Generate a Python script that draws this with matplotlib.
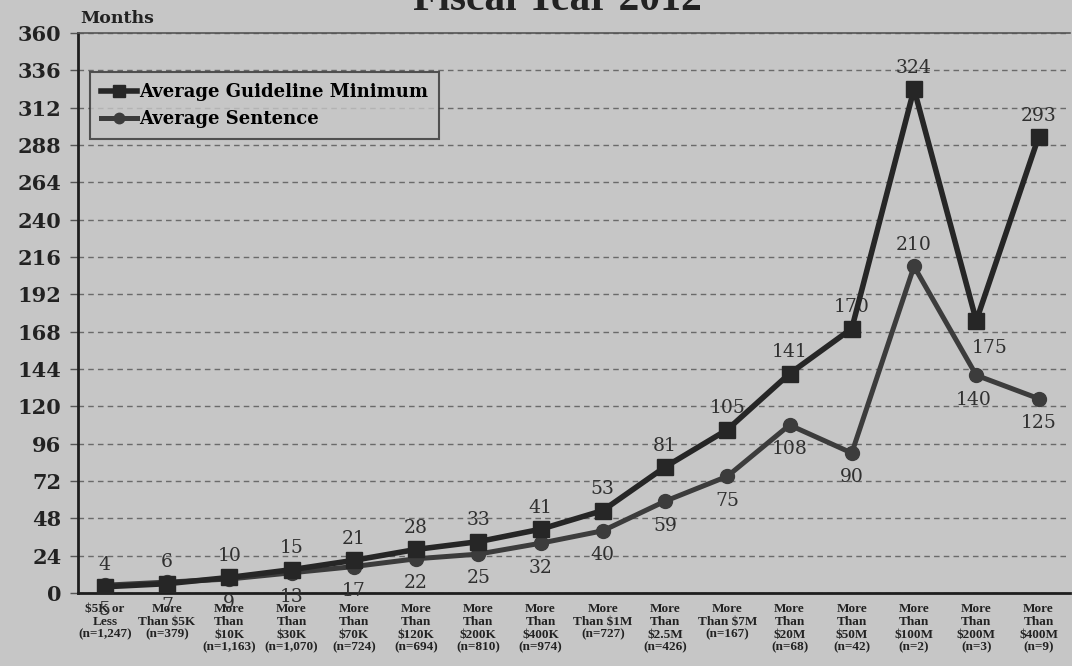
import numpy as np
from matplotlib import pyplot as plt

categories = [
    "$5K or\nLess\n(n=1,247)",
    "More\nThan $5K\n(n=379)",
    "More\nThan\n$10K\n(n=1,163)",
    "More\nThan\n$30K\n(n=1,070)",
    "More\nThan\n$70K\n(n=724)",
    "More\nThan\n$120K\n(n=694)",
    "More\nThan\n$200K\n(n=810)",
    "More\nThan\n$400K\n(n=974)",
    "More\nThan $1M\n(n=727)",
    "More\nThan\n$2.5M\n(n=426)",
    "More\nThan $7M\n(n=167)",
    "More\nThan\n$20M\n(n=68)",
    "More\nThan\n$50M\n(n=42)",
    "More\nThan\n$100M\n(n=2)",
    "More\nThan\n$200M\n(n=3)",
    "More\nThan\n$400M\n(n=9)",
]
guideline_min = [4, 6, 10, 15, 21, 28, 33, 41, 53, 81, 105, 141, 170, 324, 175, 293]
avg_sentence = [5, 7, 9, 13, 17, 22, 25, 32, 40, 59, 75, 108, 90, 210, 140, 125]
y_ticks = list(range(0, 361, 24))

bg = '#c6c6c6'
serif = ['DejaVu Serif']
narrow = ['Liberation Serif', 'DejaVu Serif']

if __name__ == '__main__':
    fig = plt.figure(figsize=(10.72, 6.66), dpi=100, facecolor=bg)
    ax = fig.add_axes([0.0728, 0.1096, 0.925, 0.8408], facecolor=bg)
    x = np.arange(len(categories))

    ax.plot(x, guideline_min, color='#262626', lw=4, marker='s', ms=11,
            label='Average Guideline Minimum', zorder=4)
    ax.plot(x, avg_sentence, color='#3c3c3c', lw=3.6, marker='o', ms=10,
            label='Average Sentence', zorder=3)

    # data labels: guideline above, sentence below (with a few exceptions)
    for i, v in enumerate(guideline_min):
        dx, dy, va = 0, 9, 'bottom'
        if i == 14:
            dx, dy, va = 10, -13, 'top'
        ax.annotate(str(v), (i, v), xytext=(dx, dy), textcoords='offset points',
                    ha='center', va=va, fontsize=13.5, family=serif, color='#303030')
    for i, v in enumerate(avg_sentence):
        dx, dy, va = 0, -11, 'top'
        if i == 13:
            dx, dy, va = 0, 9, 'bottom'
        elif i == 14:
            dx = -2
        ax.annotate(str(v), (i, v), xytext=(dx, dy), textcoords='offset points',
                    ha='center', va=va, fontsize=13.5, family=serif, color='#303030')

    ax.set_xlim(-0.43, 15.5)
    ax.set_ylim(0, 360)
    ax.set_yticks(y_ticks)
    ax.set_yticklabels([str(t) for t in y_ticks], family=serif, fontsize=15,
                       fontweight='bold', color='#222222')
    ax.set_xticks(x)
    ax.set_xticklabels(categories, family=narrow, fontsize=9.5, fontweight='bold',
                       color='#222222', linespacing=1.1, va='top')
    ax.tick_params(axis='x', length=0, pad=7)
    ax.tick_params(axis='y', length=6, width=1, color='#555555', pad=6)
    ax.yaxis.grid(True, linestyle=(0, (4, 3)), color='#6a6a6a', lw=1)
    ax.set_axisbelow(True)

    for side in ['left', 'bottom']:
        ax.spines[side].set_color('#1e1e1e')
        ax.spines[side].set_linewidth(2)
    ax.spines['right'].set_visible(False)
    ax.spines['top'].set_color('#555555')
    ax.spines['top'].set_linewidth(1.2)

    leg = ax.legend(loc='upper left', bbox_to_anchor=(0.012, 0.93),
                    prop={'family': serif, 'size': 13, 'weight': 'bold'},
                    frameon=True, handlelength=2.0, handletextpad=0.1,
                    borderpad=0.6, borderaxespad=0, labelspacing=0.5,
                    fancybox=False, markerscale=0.75)
    leg.get_frame().set_facecolor(bg)
    leg.get_frame().set_edgecolor('#333333')
    leg.get_frame().set_linewidth(1.5)

    fig.text(0.075, 0.972, 'Months', family=serif, fontsize=12.5, fontweight='bold',
             color='#222222', ha='left', va='center')
    fig.text(0.52, 1.0, 'Fiscal Year 2012', family=narrow, fontsize=30,
             fontweight='bold', color='#222222', ha='center', va='center')

    fig.savefig('out.png', dpi=100, facecolor=bg)
